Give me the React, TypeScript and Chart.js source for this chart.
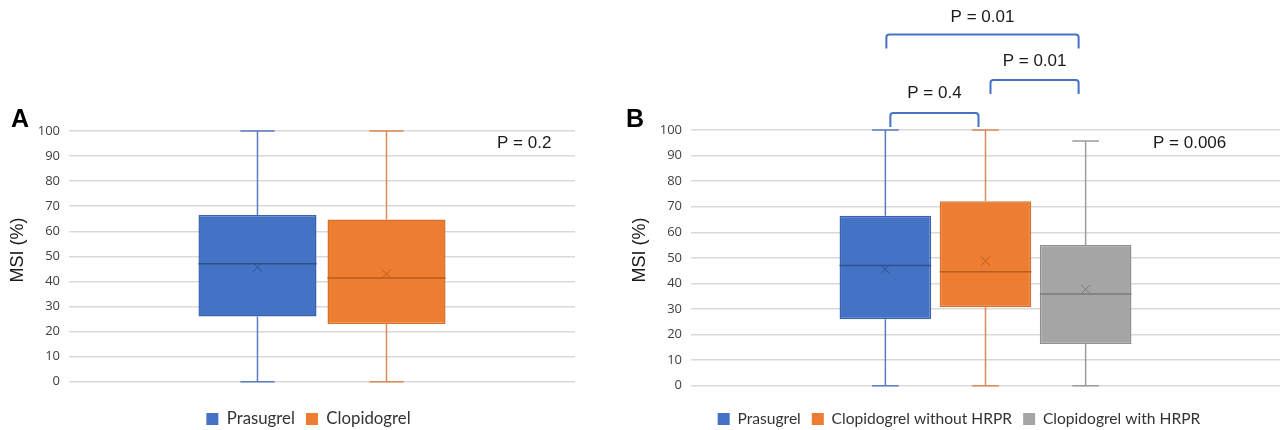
import { useEffect, useRef } from "react";
import { Chart, registerables } from "chart.js";

Chart.register(...registerables);

// ---------- Data ----------
const groupsA = ["Prasugrel", "Clopidogrel"];
const minA = [0, 0];
const q1A = [26, 23];
const medianA = [47, 41.4];
const q3A = [66.5, 64.7];
const maxA = [100, 100];
const meanA = [45.6, 43];
const pValueA = "P = 0.2";

const groupsB = ["Prasugrel", "Clopidogrel without HRPR", "Clopidogrel with HRPR"];
const minB = [0, 0, 0];
const q1B = [26, 30.7, 16.3];
const medianB = [47, 44.6, 35.9];
const q3B = [66.5, 72.1, 55];
const maxB = [100, 100, 95.7];
const meanB = [45.5, 48.8, 37.7];
const pValueB = "P = 0.006";
const pairTextsB = ["P = 0.4", "P = 0.01", "P = 0.01"];
const pairFromB = [0, 1, 0];
const pairToB = [1, 2, 2];

const yMin = 0;
const yMax = 100;
const yStep = 10;
const axisTitle = "MSI (%)";

// ---------- Styles ----------
const fillColors = ["#4472C4", "#ED7D31", "#A5A5A5"];
const borderColors = ["#3A63AE", "#D4712E", "#8F8F8F"];
const whiskerColors = ["#5A7DBF", "#D9895C", "#9C9C9C"];
const medianColors = ["#2F528F", "#B95C1E", "#7B7B7B"];
const bracketColor = "#4472C4";
const textColor = "#1A1A1A";
const tickColor = "#404040";
const gridColor = "#D9D9D9";
const arialFont = "'Liberation Sans', Arial, sans-serif";
const legendFont = "Lato, 'Open Sans', sans-serif";
const tickFont = "'Open Sans', 'Noto Sans', sans-serif";

type Stats = { min: number[]; q1: number[]; median: number[]; q3: number[]; max: number[]; mean: number[] };

function makeBoxPlugin(stats: Stats) {
  return {
    id: "boxWhiskers",
    afterDatasetsDraw(chart: any) {
      const ctx = chart.ctx;
      const y = chart.scales.y;
      chart.data.datasets.forEach((_: any, i: number) => {
        const meta = chart.getDatasetMeta(i);
        const el: any = meta.data[0];
        if (!el) return;
        const cx = el.x;
        const w = el.width;
        const cap = w * 0.29;
        const yMinP = y.getPixelForValue(stats.min[i]);
        const yQ1 = y.getPixelForValue(stats.q1[i]);
        const yMed = y.getPixelForValue(stats.median[i]);
        const yQ3 = y.getPixelForValue(stats.q3[i]);
        const yMaxP = y.getPixelForValue(stats.max[i]);
        const yMean = y.getPixelForValue(stats.mean[i]);
        ctx.save();
        ctx.strokeStyle = whiskerColors[i];
        ctx.lineWidth = 1.5;
        ctx.beginPath();
        ctx.moveTo(cx, yMaxP);
        ctx.lineTo(cx, yQ3);
        ctx.moveTo(cx, yQ1);
        ctx.lineTo(cx, yMinP);
        ctx.moveTo(cx - cap / 2, yMaxP);
        ctx.lineTo(cx + cap / 2, yMaxP);
        ctx.moveTo(cx - cap / 2, yMinP);
        ctx.lineTo(cx + cap / 2, yMinP);
        ctx.stroke();
        ctx.strokeStyle = medianColors[i];
        ctx.lineWidth = 1.5;
        ctx.beginPath();
        ctx.moveTo(cx - w / 2, yMed);
        ctx.lineTo(cx + w / 2, yMed);
        ctx.stroke();
        ctx.lineWidth = 1;
        const m = 4.5;
        ctx.beginPath();
        ctx.moveTo(cx - m, yMean - m);
        ctx.lineTo(cx + m, yMean + m);
        ctx.moveTo(cx + m, yMean - m);
        ctx.lineTo(cx - m, yMean + m);
        ctx.stroke();
        ctx.restore();
      });
    },
  };
}

type Bracket = { from: number; to: number; dxFrom: number; dxTo: number; top: number; leg: number; text: string; textY: number };

type Notes = {
  letter: string;
  letterX: number;
  letterY: number;
  titleX: number;
  titleY: number;
  pText: string;
  pX: number;
  pY: number;
  brackets: Bracket[];
};

function makeNotesPlugin(notes: Notes) {
  return {
    id: "notes",
    afterDraw(chart: any) {
      const ctx = chart.ctx;
      ctx.save();
      ctx.fillStyle = "#000";
      ctx.font = `bold 25px ${arialFont}`;
      ctx.textAlign = "left";
      ctx.textBaseline = "alphabetic";
      ctx.fillText(notes.letter, notes.letterX, notes.letterY);
      ctx.save();
      ctx.translate(notes.titleX, notes.titleY);
      ctx.rotate(-Math.PI / 2);
      ctx.font = `18px ${arialFont}`;
      ctx.fillStyle = textColor;
      ctx.textAlign = "center";
      ctx.textBaseline = "middle";
      ctx.fillText(axisTitle, 0, 0);
      ctx.restore();
      ctx.font = `17px ${arialFont}`;
      ctx.fillStyle = textColor;
      ctx.textAlign = "left";
      ctx.textBaseline = "middle";
      ctx.fillText(notes.pText, notes.pX, notes.pY);
      notes.brackets.forEach((b) => {
        const e1: any = chart.getDatasetMeta(b.from).data[0];
        const e2: any = chart.getDatasetMeta(b.to).data[0];
        if (!e1 || !e2) return;
        const x1 = e1.x + b.dxFrom;
        const x2 = e2.x + b.dxTo;
        const r = 3;
        ctx.strokeStyle = bracketColor;
        ctx.lineWidth = 2;
        ctx.beginPath();
        ctx.moveTo(x1, b.top + b.leg);
        ctx.arcTo(x1, b.top, x1 + r, b.top, r);
        ctx.arcTo(x2, b.top, x2, b.top + r, r);
        ctx.lineTo(x2, b.top + b.leg);
        ctx.stroke();
        ctx.fillStyle = textColor;
        ctx.textAlign = "center";
        ctx.textBaseline = "middle";
        ctx.font = `17px ${arialFont}`;
        ctx.fillText(b.text, (x1 + x2) / 2, b.textY);
      });
      ctx.restore();
    },
  };
}

type Layout = {
  left: number;
  top: number;
  bottom: number;
  yWidth: number;
  rightGap: number;
  xHeight: number;
  legendSize: number;
};

function buildConfig(groups: string[], stats: Stats, layout: Layout, notes: Notes): any {
  const datasets = groups.map((g, i) => ({
    label: g,
    data: [[stats.q1[i], stats.q3[i]]],
    yAxisID: "y",
    backgroundColor: fillColors[i],
    borderColor: borderColors[i],
    borderWidth: 1.5,
    borderSkipped: false,
    barPercentage: 0.915,
    categoryPercentage: 0.51,
  }));
  return {
    type: "bar",
    data: { labels: [""], datasets },
    options: {
      responsive: false,
      animation: false,
      layout: { padding: { left: layout.left, right: 0, top: layout.top, bottom: layout.bottom } },
      scales: {
        x: {
          type: "category",
          grid: { display: false },
          border: { display: false },
          ticks: { display: false },
          afterFit: (s: any) => {
            s.height = layout.xHeight;
          },
        },
        y: {
          min: yMin,
          max: yMax,
          border: { display: false },
          grid: { color: gridColor, lineWidth: 1.5, drawTicks: false },
          ticks: { stepSize: yStep, padding: 9, color: tickColor, font: { family: tickFont, size: 13 } },
          afterFit: (s: any) => {
            s.width = layout.yWidth;
          },
        },
        gap: {
          type: "linear",
          position: "right",
          grid: { display: false },
          border: { display: false },
          ticks: { display: false },
          afterFit: (s: any) => {
            s.width = layout.rightGap;
          },
        },
      },
      plugins: {
        tooltip: { enabled: false },
        legend: {
          position: "bottom",
          labels: {
            boxWidth: 12,
            boxHeight: 12,
            padding: 11,
            color: "#333",
            font: { family: legendFont, size: layout.legendSize },
            generateLabels: (chart: any) =>
              chart.data.datasets.map((d: any, i: number) => ({
                text: d.label,
                fillStyle: fillColors[i],
                strokeStyle: fillColors[i],
                lineWidth: 0,
                hidden: false,
                datasetIndex: i,
                fontColor: "#333",
              })),
          },
        },
      },
    },
    plugins: [makeBoxPlugin(stats), makeNotesPlugin(notes)],
  };
}

function ChartCanvas({ config, width, height, left }: { config: any; width: number; height: number; left: number }) {
  const ref = useRef<HTMLCanvasElement | null>(null);
  useEffect(() => {
    if (!ref.current) return;
    const chart = new Chart(ref.current, config);
    return () => chart.destroy();
  }, [config]);
  return (
    <canvas
      ref={ref}
      width={width}
      height={height}
      style={{ position: "absolute", left, top: 0, width, height }}
    />
  );
}

const statsA: Stats = { min: minA, q1: q1A, median: medianA, q3: q3A, max: maxA, mean: meanA };
const statsB: Stats = { min: minB, q1: q1B, median: medianB, q3: q3B, max: maxB, mean: meanB };

// Canvas A: x 0..587. Scale y 30..69, plot 69..575, right gap 575..587 (legend centred at 308.5)
const configA = buildConfig(
  groupsA,
  statsA,
  { left: 30, top: 131, bottom: 2.6, yWidth: 39, rightGap: 12, xHeight: 17.9, legendSize: 16.8 },
  { letter: "A", letterX: 11, letterY: 127, titleX: 18, titleY: 250, pText: pValueA, pX: 497, pY: 143, brackets: [] }
);

// Canvas B: x 610..1288. Scale y 630..691, plot 691..1280, right gap 1280..1288 (legend centred at 959)
const configB = buildConfig(
  groupsB,
  statsB,
  { left: 20, top: 130, bottom: 3.2, yWidth: 61, rightGap: 8, xHeight: 14.5, legendSize: 15.6 },
  {
    letter: "B",
    letterX: 16,
    letterY: 127,
    titleX: 30,
    titleY: 250,
    pText: pValueB,
    pX: 543,
    pY: 143,
    brackets: [
      { from: pairFromB[0], to: pairToB[0], dxFrom: 5, dxTo: -7, top: 113, leg: 14, text: pairTextsB[0], textY: 93 },
      { from: pairFromB[1], to: pairToB[1], dxFrom: 5, dxTo: -7, top: 80, leg: 14, text: pairTextsB[1], textY: 61 },
      { from: pairFromB[2], to: pairToB[2], dxFrom: 1, dxTo: -7, top: 34.5, leg: 14, text: pairTextsB[2], textY: 17.5 },
    ],
  }
);

export default function App() {
  return (
    <div
      style={{
        position: "absolute",
        left: 0,
        top: 0,
        width: 1281,
        height: 430,
        overflow: "hidden",
        background: "#fff",
      }}
    >
      <ChartCanvas config={configA} width={587} height={440} left={0} />
      <ChartCanvas config={configB} width={678} height={440} left={610} />
    </div>
  );
}
